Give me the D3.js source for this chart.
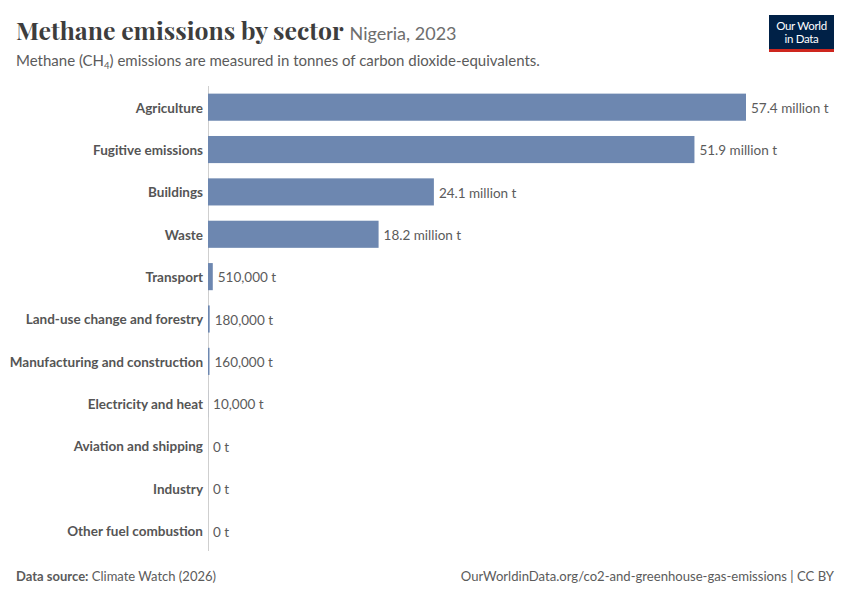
<!DOCTYPE html>
<html>
<head>
<meta charset="utf-8">
<script src="https://cdn.jsdelivr.net/npm/d3@7"></script>
<style>
  body { margin: 0; background: #fff; }
  svg { display: block; font-family: Lato, "Noto Sans", sans-serif; }
</style>
</head>
<body>
<script>
// sectors, top to bottom
var sectors = ["Agriculture", "Fugitive emissions", "Buildings", "Waste", "Transport",
  "Land-use change and forestry", "Manufacturing and construction", "Electricity and heat",
  "Aviation and shipping", "Industry", "Other fuel combustion"];
// tonnes CO2-eq
var emissions = [57400000, 51900000, 24100000, 18200000, 510000,
  180000, 160000, 10000, 0, 0, 0];
var valueLabels = ["57.4 million t", "51.9 million t", "24.1 million t", "18.2 million t", "510,000 t",
  "180,000 t", "160,000 t", "10,000 t", "0 t", "0 t", "0 t"];

var width = 850, height = 600;
var margin = {left: 208, right: 104, top: 86, bottom: 50};

var svg = d3.select("body").append("svg")
  .attr("width", width)
  .attr("height", height);

// header
var title = svg.append("text")
  .attr("x", 16).attr("y", 40)
  .attr("font-family", "'Playfair Display', 'Liberation Serif', 'DejaVu Serif', serif")
  .attr("font-size", 24.8)
  .attr("font-weight", "bold")
  .attr("fill", "#3d3d3d")
  .text("Methane emissions by sector");
title.append("tspan")
  .attr("font-family", "Lato, sans-serif")
  .attr("font-weight", "normal")
  .attr("font-size", 18)
  .attr("fill", "#6e6e6e")
  .attr("dx", 6)
  .text("Nigeria, 2023");

var sub = svg.append("text")
  .attr("x", 16).attr("y", 66)
  .attr("font-size", 15)
  .attr("fill", "#5b5b5b")
  .text("Methane (CH");
sub.append("tspan").attr("font-size", 9.5).attr("dy", 3).text("4");
sub.append("tspan").attr("dy", -3).text(") emissions are measured in tonnes of carbon dioxide-equivalents.");

// logo
var logo = svg.append("g").attr("transform", "translate(769,15)");
logo.append("rect").attr("width", 65).attr("height", 37).attr("fill", "#002147");
logo.append("rect").attr("y", 34).attr("width", 65).attr("height", 3).attr("fill", "#ce261e");
logo.append("text").attr("x", 32.5).attr("y", 15).attr("text-anchor", "middle")
  .attr("fill", "#fff").attr("font-size", 11.5).attr("letter-spacing", -0.3).text("Our World");
logo.append("text").attr("x", 32.5).attr("y", 28).attr("text-anchor", "middle")
  .attr("fill", "#fff").attr("font-size", 11.5).attr("letter-spacing", -0.3).text("in Data");

// scales
var x = d3.scaleLinear()
  .domain([0, d3.max(emissions)])
  .range([margin.left, 746]);

var y = d3.scaleBand()
  .domain(sectors)
  .range([86, 552])
  .paddingInner(0.36)
  .paddingOuter(0.18);

var rows = sectors.map(function(s, i) { return {sector: s, value: emissions[i], label: valueLabels[i]}; });

// axis line (under the bars)
svg.append("line")
  .attr("x1", x(0) + 0.5).attr("x2", x(0) + 0.5)
  .attr("y1", 86).attr("y2", 551)
  .attr("stroke", "#cfcfcf")
  .attr("stroke-width", 1);

svg.append("g")
  .selectAll("rect")
  .data(rows)
  .enter().append("rect")
    .attr("x", x(0))
    .attr("y", function(d) { return y(d.sector); })
    .attr("width", function(d) { return x(d.value) - x(0); })
    .attr("height", y.bandwidth())
    .attr("fill", "#6d87b0");

// category labels
var yAxis = d3.axisLeft(y).tickSize(0).tickPadding(5);
var gy = svg.append("g")
  .attr("transform", "translate(" + x(0) + ",1)")
  .call(yAxis);
gy.select(".domain").remove();
gy.selectAll("text")
  .attr("font-family", "Lato, sans-serif")
  .attr("font-size", 13.5)
  .attr("font-weight", "bold")
  .attr("fill", "#555");

// value labels
svg.append("g")
  .selectAll("text")
  .data(rows)
  .enter().append("text")
    .attr("x", function(d) { return x(d.value) + 5; })
    .attr("y", function(d) { return y(d.sector) + y.bandwidth() / 2 + 1; })
    .attr("dy", "0.35em")
    .attr("font-size", 13.5)
    .attr("fill", "#5b5b5b")
    .text(function(d) { return d.label; });

// footer
var src = svg.append("text")
  .attr("x", 16).attr("y", 581)
  .attr("font-size", 13)
  .attr("fill", "#5b5b5b");
src.append("tspan").attr("font-weight", "bold").text("Data source:");
src.append("tspan").text(" Climate Watch (2026)");

svg.append("text")
  .attr("x", 834).attr("y", 581)
  .attr("text-anchor", "end")
  .attr("font-size", 13.1)
  .attr("fill", "#5b5b5b")
  .text("OurWorldinData.org/co2-and-greenhouse-gas-emissions | CC BY");
</script>
</body>
</html>
